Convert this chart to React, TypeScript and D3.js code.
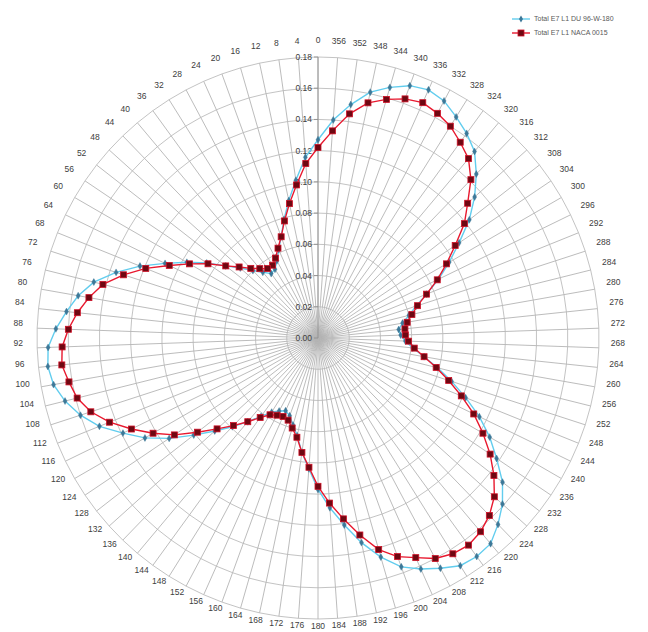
import React from 'react';
import * as d3 from 'd3';

// categories (degrees), counter-clockwise from the top
const categories = [
  0, 4, 8, 12, 16, 20, 24, 28, 32, 36, 40, 44, 48, 52, 56, 60, 64, 68, 72, 76,
  80, 84, 88, 92, 96, 100, 104, 108, 112, 116, 120, 124, 128, 132, 136, 140, 144, 148, 152, 156,
  160, 164, 168, 172, 176, 180, 184, 188, 192, 196, 200, 204, 208, 212, 216, 220, 224, 228, 232, 236,
  240, 244, 248, 252, 256, 260, 264, 268, 272, 276, 280, 284, 288, 292, 296, 300, 304, 308, 312, 316,
  320, 324, 328, 332, 336, 340, 344, 348, 352, 356,
];

const radialTicks = [0, 0.02, 0.04, 0.06, 0.08, 0.1, 0.12, 0.14, 0.16, 0.18];

const seriesNames = ['Total E7 L1 DU 96-W-180', 'Total E7 L1 NACA 0015'];

const duValues = [
  0.127, 0.116, 0.102, 0.09, 0.079, 0.069, 0.062, 0.056, 0.052, 0.051,
  0.055, 0.06, 0.067, 0.075, 0.086, 0.097, 0.109, 0.123, 0.136, 0.148,
  0.156, 0.162, 0.168, 0.173, 0.174, 0.172, 0.167, 0.16, 0.151, 0.139,
  0.128, 0.115, 0.101, 0.089, 0.079, 0.07, 0.062, 0.056, 0.053, 0.051,
  0.053, 0.058, 0.064, 0.074, 0.084, 0.097, 0.109, 0.121, 0.134, 0.146,
  0.156, 0.162, 0.167, 0.172, 0.173, 0.172, 0.166, 0.159, 0.15, 0.138,
  0.127, 0.115, 0.102, 0.09, 0.079, 0.069, 0.061, 0.056, 0.053, 0.052,
  0.055, 0.06, 0.066, 0.075, 0.086, 0.097, 0.109, 0.123, 0.135, 0.146,
  0.156, 0.162, 0.167, 0.172, 0.174, 0.172, 0.167, 0.161, 0.151, 0.14,
];

const nacaValues = [
  0.122, 0.112, 0.099, 0.088, 0.078, 0.069, 0.063, 0.058, 0.055, 0.055,
  0.058, 0.062, 0.068, 0.075, 0.085, 0.095, 0.106, 0.119, 0.131, 0.142,
  0.149, 0.155, 0.16, 0.164, 0.165, 0.162, 0.159, 0.153, 0.144, 0.133,
  0.122, 0.111, 0.098, 0.087, 0.078, 0.07, 0.063, 0.058, 0.056, 0.055,
  0.056, 0.06, 0.065, 0.074, 0.083, 0.095, 0.106, 0.117, 0.129, 0.141,
  0.149, 0.154, 0.16, 0.163, 0.164, 0.162, 0.158, 0.152, 0.143, 0.133,
  0.122, 0.111, 0.099, 0.088, 0.078, 0.069, 0.062, 0.058, 0.056, 0.056,
  0.058, 0.062, 0.067, 0.075, 0.085, 0.095, 0.106, 0.119, 0.129, 0.141,
  0.15, 0.155, 0.16, 0.163, 0.165, 0.163, 0.159, 0.154, 0.145, 0.133,
];

const W = 648;
const H = 632;
const cx = 318;
const cy = 338;
const R = 281;
const FONT = '"Liberation Sans", Arial, sans-serif';

export default function App() {
  const rScale = d3.scaleLinear().domain([0, 0.18]).range([0, R]);
  // d3 radial angles run clockwise, categories here run counter-clockwise
  const aScale = d3.scaleLinear().domain([0, 360]).range([0, -2 * Math.PI]);

  const pos = (deg: number, r: number) => {
    const a = aScale(deg);
    return [r * Math.sin(a), -r * Math.cos(a)];
  };

  const ringPath = (t: number) =>
    d3
      .lineRadial<number>()
      .angle((c) => aScale(c))
      .radius(() => rScale(t))
      .curve(d3.curveLinearClosed)(categories) || '';

  const seriesPath = (vals: number[]) =>
    d3
      .lineRadial<number>()
      .angle((_, i) => aScale(categories[i]))
      .radius((v) => rScale(v))
      .curve(d3.curveLinearClosed)(vals) || '';

  const diamond = d3.symbol().type(d3.symbolDiamond).size(14)() || '';

  return (
    <svg
      width={W}
      height={H}
      style={{ position: 'absolute', left: 0, top: 0, background: '#fff' }}
      fontFamily={FONT}
    >
      <g transform={`translate(${cx},${cy})`}>
        {/* concentric grid */}
        {radialTicks.slice(1).map((t) => (
          <path key={t} d={ringPath(t)} fill="none" stroke="#bcbcbc" strokeWidth={0.9} />
        ))}
        {/* spokes */}
        {categories.map((c) => {
          const [x, y] = pos(c, R);
          return <line key={c} x1={0} y1={0} x2={x} y2={y} stroke="#b4b4b4" strokeWidth={0.9} />;
        })}

        {/* radial value axis */}
        <line x1={0} y1={0} x2={0} y2={-R} stroke="#8a8a8a" strokeWidth={0.8} />
        {radialTicks.map((t) => (
          <g key={t} transform={`translate(0,${-rScale(t)})`}>
            <line x1={-4} x2={0} stroke="#8a8a8a" strokeWidth={0.8} />
            <text x={-6} dy="0.35em" textAnchor="end" fontSize={8.5} fill="#404040">
              {d3.format('.2f')(t)}
            </text>
          </g>
        ))}

        {/* category labels (label ring sits a little higher than the plot centre) */}
        {categories.map((c) => {
          const a = aScale(c);
          const x = (R + 19) * Math.sin(a);
          const y = -5 - (R + 12) * Math.cos(a);
          return (
            <text key={c} x={x} y={y} dy="0.35em" textAnchor="middle" fontSize={8.5} fill="#404040">
              {c}
            </text>
          );
        })}

        {/* DU series */}
        <path d={seriesPath(duValues)} fill="none" stroke="#62cdee" strokeWidth={1.4} />
        {duValues.map((v, i) => {
          const [x, y] = pos(categories[i], rScale(v));
          return <path key={i} d={diamond} transform={`translate(${x},${y})`} fill="#3d7898" stroke="#3d7898" strokeWidth={0.4} />;
        })}

        {/* NACA series */}
        <path d={seriesPath(nacaValues)} fill="none" stroke="#e8182e" strokeWidth={1.4} />
        {nacaValues.map((v, i) => {
          const [x, y] = pos(categories[i], rScale(v));
          return <rect key={i} x={x - 3} y={y - 3} width={6} height={6} fill="#6e0812" stroke="#cf1026" strokeWidth={0.8} />;
        })}
      </g>

      {/* legend */}
      <g fontSize={7} fill="#595959">
        <line x1={512} x2={530} y1={19} y2={19} stroke="#62cdee" strokeWidth={1.4} />
        <path d={diamond} transform="translate(521,19)" fill="#3d7898" />
        <text x={534} y={19} dy="0.35em">{seriesNames[0]}</text>
        <line x1={512} x2={530} y1={33} y2={33} stroke="#e8182e" strokeWidth={1.4} />
        <rect x={518} y={30} width={6} height={6} fill="#6e0812" stroke="#cf1026" strokeWidth={0.8} />
        <text x={534} y={33} dy="0.35em">{seriesNames[1]}</text>
      </g>
    </svg>
  );
}
